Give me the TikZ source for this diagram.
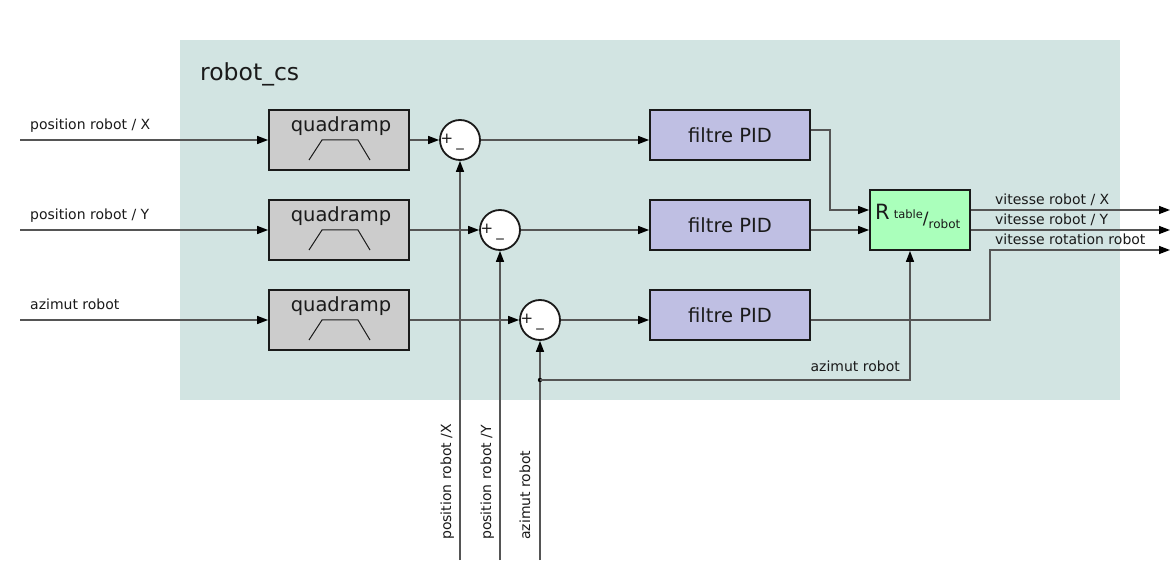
\documentclass[tikz,border=0pt]{standalone}
\usepackage{fontspec}
\setmainfont{DejaVu Sans}
\usetikzlibrary{arrows.meta,calc}
\definecolor{bgcs}{HTML}{D2E4E2}
\definecolor{qgray}{HTML}{CCCCCC}
\definecolor{pidc}{HTML}{BFBFE3}
\definecolor{rgreen}{HTML}{AAFFBB}
\definecolor{linec}{HTML}{555555}
\definecolor{txtc}{HTML}{1A1A1A}
\tikzset{
  conn/.style={draw=linec, line width=1.4pt},
  arr/.style={conn, -{Triangle[length=11pt,width=8pt,color=black]}},
  qbox/.style={draw=txtc, fill=qgray, line width=1.8pt, minimum width=140pt, minimum height=60pt, inner sep=0pt},
  pidbox/.style={draw=txtc, fill=pidc, line width=1.8pt, minimum width=160pt, minimum height=50pt, inner sep=0pt, font=\fontsize{19.5}{22}\selectfont, text=txtc},
  sumnode/.style={circle, draw=txtc, fill=white, line width=1.8pt, minimum size=40pt, inner sep=0pt},
  lbl/.style={font=\fontsize{14}{16}\selectfont, text=txtc, inner sep=0pt},
  qtxt/.style={font=\fontsize{19.5}{22}\selectfont, text=txtc, inner sep=0pt},
  sgn/.style={font=\fontsize{15}{16}\selectfont, text=txtc, inner sep=0pt},
}
\begin{document}
\begin{tikzpicture}[x=1pt,y=-1pt]
\useasboundingbox (0,0) rectangle (1171,580);
\fill[white] (0,0) rectangle (1171,580);
% background
\fill[bgcs] (180,40) rectangle (1120,400);
\node[anchor=base west, font=\fontsize{23.5}{26}\selectfont, text=txtc, inner sep=0pt] (title) at (200,81) {robot\_cs};

% quadramp boxes
\foreach \i/\y in {1/140,2/230,3/320}{
  \node[qbox] (q\i) at (339,\y) {};
  \node[qtxt, anchor=base] (qt\i) at ($(q\i.center)+(2,-8)$) {quadramp};
  \draw[txtc, line width=1pt] ($(q\i.center)+(-30,20)$) -- ($(q\i.center)+(-17,0)$) -- ($(q\i.center)+(19,0)$) -- ($(q\i.center)+(31,20)$);
}

% sum nodes
\node[sumnode] (s1) at (460,140) {};
\node[sumnode] (s2) at (500,230) {};
\node[sumnode] (s3) at (540,320) {};
\foreach \i in {1,2,3}{
  \node[sgn] (sp\i) at ($(s\i.center)+(-13,-1)$) {+};
  \node[sgn] (sm\i) at ($(s\i.center)+(0,8)$) {\_};
}

% PID boxes
\node[pidbox] (p1) at (730,135) {filtre PID};
\node[pidbox] (p2) at (730,225) {filtre PID};
\node[pidbox] (p3) at (730,315) {filtre PID};

% R box
\node[draw=txtc, fill=rgreen, line width=1.8pt, minimum width=100pt, minimum height=60pt, inner sep=0pt] (R) at (920,220) {};
\node[anchor=base west, inner sep=0pt, text=txtc] (Rt) at (875,220)
  {{\fontsize{21}{22}\selectfont R}\kern4pt\raisebox{1pt}{\fontsize{11.5}{12}\selectfont table}\raisebox{-5pt}{\fontsize{17}{17}\selectfont /}\raisebox{-9pt}{\fontsize{12}{12}\selectfont robot}};

% inputs
\coordinate (in1) at (20,140);
\coordinate (in2) at (20,230);
\coordinate (in3) at (20,320);
\draw[arr] (in1) -- (q1.west);
\draw[arr] (in2) -- (q2.west);
\draw[arr] (in3) -- (q3.west);
\node[lbl, anchor=base west] (l1) at (30,130) {position robot / X};
\node[lbl, anchor=base west] (l2) at (30,220) {position robot / Y};
\node[lbl, anchor=base west] (l3) at (30,309) {azimut robot};

% quadramp -> sum
\draw[arr] (q1.east) -- (s1.west);
\draw[arr] (q2.east) -- (s2.west);
\draw[arr] (q3.east) -- (s3.west);

% sum -> PID
\draw[arr] (s1.east) -- (s1.east -| p1.west);
\draw[arr] (s2.east) -- (s2.east -| p2.west);
\draw[arr] (s3.east) -- (s3.east -| p3.west);

% setpoint verticals
\coordinate (b1) at (460,560);
\coordinate (b2) at (500,560);
\coordinate (b3) at (540,560);
\draw[arr] (b1) -- (s1.south);
\draw[arr] (b2) -- (s2.south);
\draw[arr] (b3) -- (s3.south);
\node[lbl, rotate=90, anchor=base west] (v1) at (451,540) {position robot /X};
\node[lbl, rotate=90, anchor=base west] (v2) at (491,540) {position robot /Y};
\node[lbl, rotate=90, anchor=base west] (v3) at (530,540) {azimut robot};

% feedback azimut
\coordinate (fd) at (540,380);
\coordinate (fc) at (910,380);
\fill[black] (fd) circle (2.2pt);
\draw[arr] (fd) -- (fc) -- (fc |- R.south);
\node[lbl, anchor=base east] (fl) at (900,371) {azimut robot};

% PID -> R
\coordinate (k1) at (830,210);
\draw[arr] ([yshift=5pt]p1.east) -| (k1) -- ([yshift=10pt]R.west);
\draw[arr] ([yshift=-5pt]p2.east) -- ([yshift=-10pt]R.west);

% outputs
\coordinate (o1) at (1170,210);
\coordinate (o2) at (1170,230);
\coordinate (o3) at (1170,250);
\coordinate (k3) at (990,250);
\draw[arr] ([yshift=10pt]R.east) -- (o1);
\draw[arr] ([yshift=-10pt]R.east) -- (o2);
\draw[arr] ([yshift=-5pt]p3.east) -| (k3) -- (o3);
\node[lbl, anchor=base west] (ol1) at (995,205) {vitesse robot / X};
\node[lbl, anchor=base west] (ol2) at (995,225) {vitesse robot / Y};
\node[lbl, anchor=base west] (ol3) at (995,245) {vitesse rotation robot};
\end{tikzpicture}
\end{document}
